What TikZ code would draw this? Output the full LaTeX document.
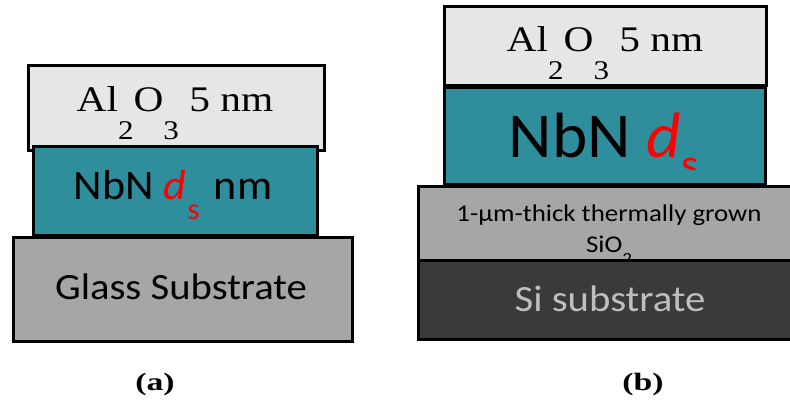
\documentclass[tikz,border=0pt]{standalone}
\usepackage{fontspec}
\setmainfont{Liberation Serif}
\newfontfamily\calfont{Carlito}
\definecolor{alox}{RGB}{230,230,230}
\definecolor{nbncol}{RGB}{46,142,155}
\definecolor{glasscol}{RGB}{166,166,166}
\definecolor{sidark}{RGB}{60,58,57}
\definecolor{sitext}{RGB}{191,191,191}
\newcommand{\lowsub}[3]{\raisebox{-#1}{\fontsize{#2}{#2}\selectfont #3}}
\newcommand{\aloxtext}{Al\lowsub{28pt}{27}{2}O\lowsub{28pt}{27}{3} 5 nm}
\begin{document}
\begin{tikzpicture}[x=1pt,y=-1pt,
  layer/.style={draw=black,line width=2.6pt,rectangle,inner sep=0pt,anchor=north west},
  txt/.style={anchor=base,inner sep=0pt},
  lbl/.style={anchor=base,inner sep=0pt,xscale=1.35,font=\fontsize{25}{25}\selectfont\bfseries}]
\useasboundingbox (0,0) rectangle (790,403);
\fill[white] (0,0) rectangle (790,403);
% ---------- panel (a)
\node[layer,fill=alox,minimum width=296pt,minimum height=85pt] (aal) at (27,64) {};
\node[layer,fill=nbncol,minimum width=284pt,minimum height=89pt] (anbn) at (32,145) {};
\node[layer,fill=glasscol,minimum width=339pt,minimum height=104pt] (aglass) at (12,236) {};
\node[txt,xscale=1.15,font=\fontsize{36}{36}\selectfont] (aaltxt) at (175,112) {\aloxtext};
\node[txt,xscale=1.05,font=\calfont\fontsize{42}{42}\selectfont] (anbntxt) at (173,200)
  {NbN \textcolor{red}{\itshape d}\kern1pt\lowsub{20pt}{30}{\textcolor{red}{s}}\kern4pt{} nm};
\node[txt,xscale=1.1,font=\calfont\fontsize{37}{37}\selectfont] (aglasstxt) at (181,300) {Glass Substrate};
% ---------- panel (b)
\node[layer,fill=alox,minimum width=322pt,minimum height=79pt] (bal) at (443,5) {};
\node[layer,fill=nbncol,minimum width=321pt,minimum height=97pt] (bnbn) at (443,86) {};
\node[txt,xscale=1.15,font=\fontsize{36}{36}\selectfont] (baltxt) at (605,52) {\aloxtext};
\begin{scope}
  \clip (bnbn.north west) rectangle (bnbn.east |- 0,170);
  \node[txt,xscale=1.05,font=\calfont\fontsize{64}{64}\selectfont] (bnbntxt) at (604,158)
    {NbN \textcolor{red}{\itshape d}\kern1pt\lowsub{21pt}{42}{\textcolor{red}{s}}};
\end{scope}
\node[layer,fill=glasscol,minimum width=390pt,minimum height=74pt] (bsio) at (417,185) {};
\node[txt,xscale=1.12,font=\calfont\fontsize{24}{24}\selectfont] (bsiotxt) at (609,222) {1-µm-thick thermally grown};
\node[txt,xscale=1.12,font=\calfont\fontsize{24}{24}\selectfont] (bsiotxtb) at (609,253) {SiO\lowsub{12pt}{17}{2}};
\node[layer,fill=sidark,minimum width=390pt,minimum height=79pt] (bsi) at (417,259) {};
\node[txt,xscale=1.1,text=sitext,font=\calfont\fontsize{37}{37}\selectfont] (bsitxt) at (610,312) {Si substrate};
% ---------- labels
\node[lbl] (la) at (155,390) {(a)};
\node[lbl] (lb) at (643,390) {(b)};
\end{tikzpicture}
\end{document}
